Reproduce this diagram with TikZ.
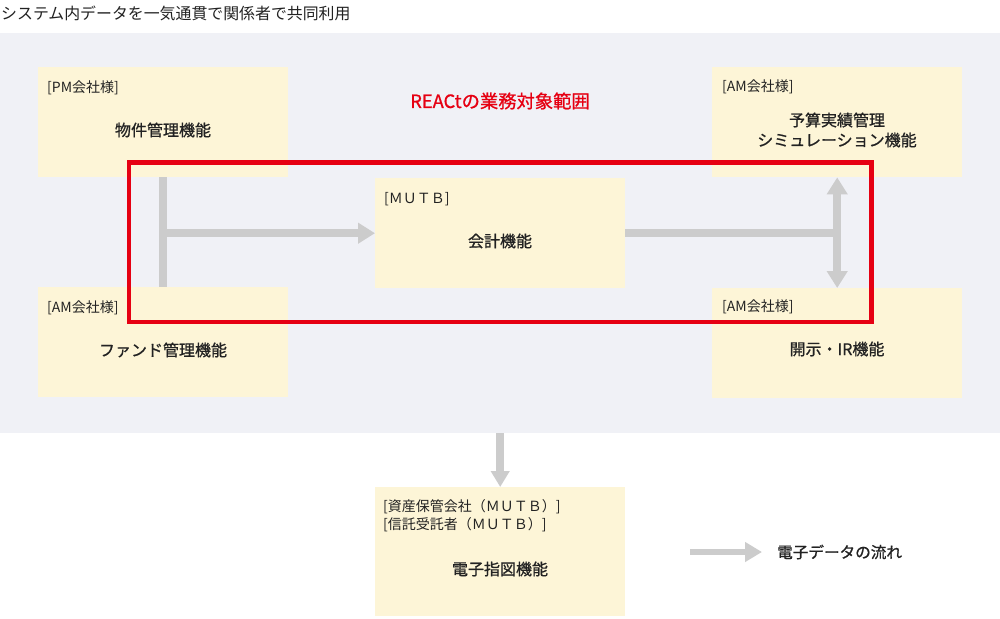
\documentclass[tikz,border=0pt]{standalone}
\usepackage{fontspec}
\setmainfont{Noto Sans CJK JP}
\newfontfamily\medjp{Noto Sans CJK JP}[FakeBold=0.9]
\usetikzlibrary{arrows.meta}
\definecolor{bggrey}{HTML}{F0F1F6}
\definecolor{boxyellow}{HTML}{FDF5D7}
\definecolor{conngrey}{HTML}{CCCCCC}
\definecolor{reactred}{HTML}{E60012}
\definecolor{ink}{HTML}{222222}
\begin{document}
\begin{tikzpicture}[x=1pt,y=-1pt,
  box/.style={fill=boxyellow,draw=none,minimum width=250pt,minimum height=110pt,anchor=north west,inner sep=0pt},
  sublabel/.style={text=ink,anchor=west,inner sep=0pt,font=\fontsize{14pt}{16pt}\selectfont},
  mainlabel/.style={text=ink,inner sep=0pt,align=center,font=\medjp\fontsize{16pt}{20pt}\selectfont},
  conn/.style={draw=conngrey,line width=7.5pt},
  head/.style={arrows={-Triangle[width=20pt,length=17pt]}},
  downhead/.style={arrows={-Triangle[width=18pt,length=16pt]}},
  dhead/.style={arrows={Triangle[width=20pt,length=17pt]-Triangle[width=20pt,length=17pt]}},
  reactbox/.style={draw=reactred,line width=4.5pt}
]
\useasboundingbox (0,0) rectangle (1000,618);
\fill[white] (0,0) rectangle (1000,618);
% title
\node[text=ink,anchor=west,inner sep=0pt,font=\fontsize{15.9pt}{18pt}\selectfont] (title) at (1,13) {システム内データを一気通貫で関係者で共同利用};
% background panel
\node[fill=bggrey,draw=none,anchor=north west,minimum width=1000pt,minimum height=400pt,inner sep=0pt] (bg) at (0,33) {};
% boxes
\node[box] (pm) at (38,67) {};
\node[box] (fund) at (38,287) {};
\node[box] (mutb) at (375,178) {};
\node[box] (sim) at (712,67) {};
\node[box] (ir) at (712,288) {};
\node[box,minimum height=129pt] (sashizu) at (375,487) {};
% connectors
\draw[conn] (pm.south) -- (fund.north);
\draw[conn,head] (pm.south |- mutb.west) -- (mutb.west);
\draw[conn] (mutb.east) -- (mutb.east -| sim.south);
\draw[conn,dhead] (sim.south) -- (ir.north);
\draw[conn,downhead] (bg.south -| sashizu.north) -- (sashizu.north);
% REACt scope
\node[text=reactred,inner sep=0pt,font=\medjp\fontsize{18.3pt}{20pt}\selectfont] (scopetitle) at (500,101) {REACtの業務対象範囲};
\coordinate (scNW) at (129,162.5);
\coordinate (scSE) at (871.5,322);
\draw[reactbox] (scNW) rectangle (scSE);
% labels
\node[sublabel] (pmL) at (47,88) {[PM会社様]};
\node[mainlabel] (pmM) at (163,130) {物件管理機能};
\node[sublabel] (fundL) at (47,308) {[AM会社様]};
\node[mainlabel] (fundM) at (163,350) {ファンド管理機能};
\node[sublabel] (mutbL) at (384,199) {[ＭＵＴＢ]};
\node[mainlabel] (mutbM) at (500,241) {会計機能};
\node[sublabel] (simL) at (722,87) {[AM会社様]};
\node[mainlabel] (simM) at (837,130) {予算実績管理\\シミュレーション機能};
\node[sublabel] (irL) at (722,307) {[AM会社様]};
\node[mainlabel] (irM) at (837,349) {開示・IR機能};
\node[sublabel] (sasL1) at (383,507) {[資産保管会社（ＭＵＴＢ）]};
\node[sublabel] (sasL2) at (383,525) {[信託受託者（ＭＵＴＢ）]};
\node[mainlabel] (sasM) at (500,569) {電子指図機能};
% legend
\coordinate (lgA) at (690,552);
\coordinate (lgB) at (762,552);
\draw[draw=conngrey,line width=6.5pt,arrows={-Triangle[width=19pt,length=17pt]}] (lgA) -- (lgB);
\node[text=ink,anchor=west,inner sep=0pt,font=\medjp\fontsize{15.6pt}{18pt}\selectfont] (lgT) at (777,552) {電子データの流れ};
\end{tikzpicture}
\end{document}
